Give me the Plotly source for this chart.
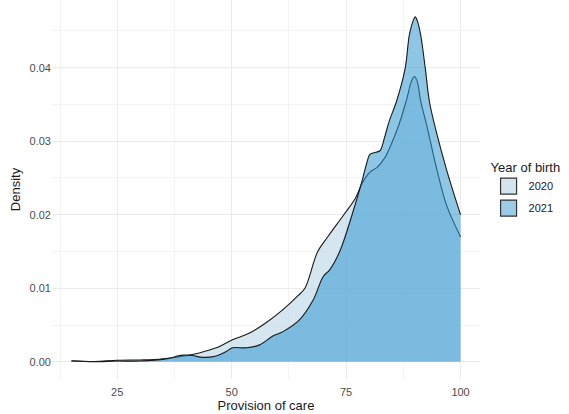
import plotly.graph_objects as go

# Density curves (Provision of care vs density)
x_2020 = [15, 20, 25, 30, 33, 35.6, 39.3, 42.9, 46.6, 50.2, 53.9, 57.5, 61.2, 64.5, 66,
          68.8, 71, 74.5, 77, 78.6, 80.2, 81.7, 83.5, 85, 86.4, 88.1, 89.3, 89.9, 90.5,
          91.3, 92.6, 94.8, 97, 100]
d_2020 = [0.00015, 0.00005, 0.0002, 0.00025, 0.0003, 0.00045, 0.00076, 0.0012, 0.0019,
          0.0030, 0.0039, 0.0053, 0.0071, 0.0090, 0.0100, 0.0150, 0.0170, 0.0200, 0.0222,
          0.0244, 0.0258, 0.0264, 0.0278, 0.0298, 0.0320, 0.0354, 0.0382, 0.0388, 0.0382,
          0.0354, 0.0322, 0.0262, 0.0212, 0.0170]

x_2021 = [15, 20, 25, 30, 35.6, 39.3, 41.4, 43.7, 46.6, 48.8, 50.2, 53.2, 56.1, 59, 61.2,
          64.8, 67.8, 70.0, 71.4, 73.6, 76.3, 78.4, 79.5, 80.2, 81.5, 82.4, 83.4, 84.4, 86,
          87.9, 88.8, 89.6, 90.1, 90.6, 91.3, 92.3, 93.2, 94.7, 97, 100]
d_2021 = [0.0001, 0.0, 0.0001, 0.0001, 0.0004, 0.0009, 0.00085, 0.0006, 0.0008, 0.0014,
          0.0019, 0.0019, 0.0023, 0.0035, 0.0041, 0.0057, 0.0084, 0.0116, 0.0125, 0.0150,
          0.0200, 0.0244, 0.0270, 0.0282, 0.0285, 0.0287, 0.0305, 0.0327, 0.0354, 0.0399,
          0.0444, 0.0463, 0.0469, 0.0463, 0.0444, 0.0399, 0.0354, 0.0313, 0.0260, 0.0200]

years = ["2020", "2021"]
fills = ["rgba(190,216,232,0.65)", "rgba(49,151,209,0.55)"]
key_colors = ["#d4e5f0", "#9ccbe8"]
series = [(x_2020, d_2020), (x_2021, d_2021)]

fig = go.Figure()
for (xs, ds), name, fc in zip(series, years, fills):
    fig.add_trace(go.Scatter(
        x=xs, y=ds, mode="lines", fill="tozeroy", fillcolor=fc,
        line=dict(color="#1a1a1a", width=1.1, shape="spline", smoothing=1.0),
        name=name, showlegend=False, hoverinfo="skip"))

for name, kc in zip(years, key_colors):
    fig.add_trace(go.Scatter(
        x=[None], y=[None], mode="markers", name=name, legendgroup=name,
        marker=dict(symbol="square", size=20, color=kc,
                    line=dict(color="#333333", width=1.2))))

fig.update_layout(
    width=569, height=414,
    margin=dict(l=52, r=89, t=0, b=35),
    paper_bgcolor="white", plot_bgcolor="white",
    font=dict(family="Liberation Sans, Arial, sans-serif", size=11, color="#4d4d4d"),
    legend=dict(
        title=dict(text="Year of birth", font=dict(size=13, color="#1a1a1a")),
        x=1.02, xanchor="left", y=0.592, yanchor="top",
        font=dict(size=11, color="#1a1a1a"), itemsizing="trace",
        tracegroupgap=3, bgcolor="rgba(0,0,0,0)"),
    xaxis=dict(
        range=[10.75, 104.25], tick0=0, dtick=25, showgrid=True,
        gridcolor="#ebebeb", gridwidth=1, zeroline=False, showline=False,
        ticks="outside", ticklen=3, tickcolor="rgba(0,0,0,0)",
        tickfont=dict(size=11, color="#4d4d4d"),
        minor=dict(dtick=12.5, tick0=0, showgrid=True, gridcolor="#f3f3f3", gridwidth=0.8),
        title=dict(text="Provision of care", font=dict(size=13, color="#1a1a1a"), standoff=3)),
    yaxis=dict(
        range=[-0.00234, 0.0492], tick0=0, dtick=0.01, tickformat=".2f", showgrid=True,
        gridcolor="#ebebeb", gridwidth=1, zeroline=False, showline=False,
        ticks="", tickfont=dict(size=11, color="#4d4d4d"),
        minor=dict(dtick=0.005, tick0=0, showgrid=True, gridcolor="#f3f3f3", gridwidth=0.8),
        title=dict(text="Density", font=dict(size=13, color="#1a1a1a"), standoff=6)),
)

fig.write_html("out.html")
